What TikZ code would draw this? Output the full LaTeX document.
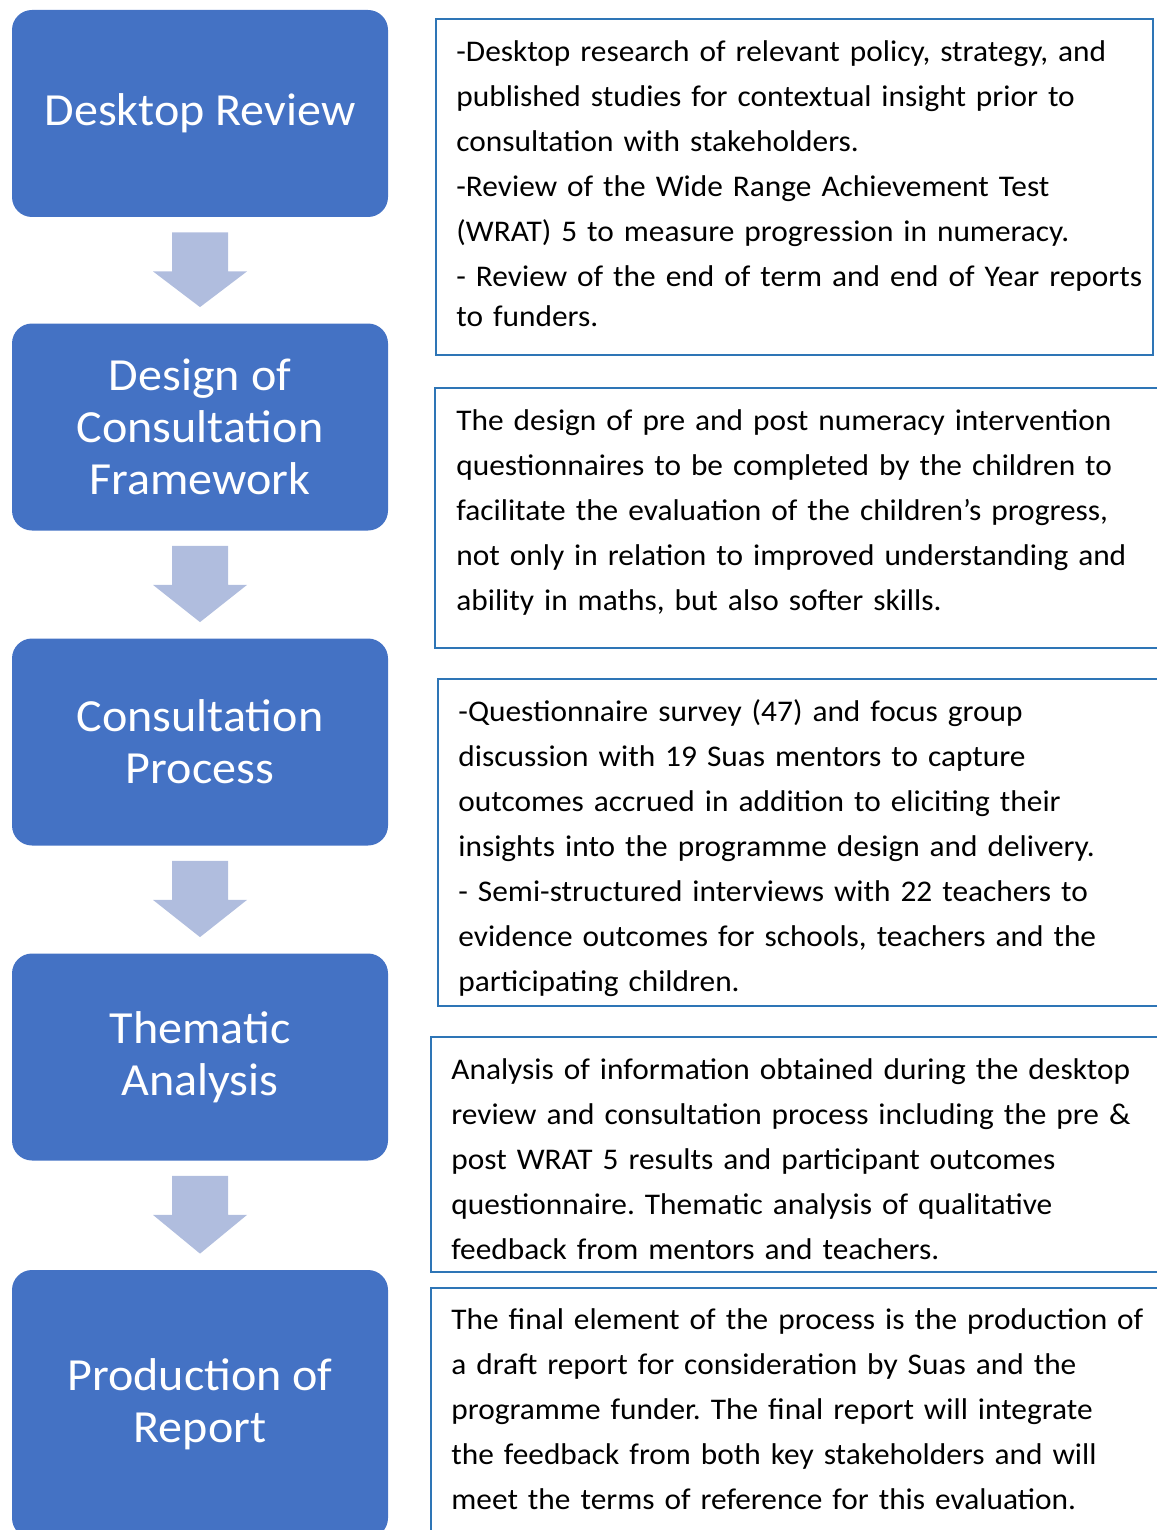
\documentclass[tikz,border=0pt]{standalone}
\usepackage{fontspec}
\setmainfont{Carlito}[FakeStretch=1.045]
\usetikzlibrary{calc}

\definecolor{stageblue}{RGB}{68,114,196}
\definecolor{flowblue}{RGB}{176,189,222}
\definecolor{frameblue}{RGB}{46,117,182}

\begin{document}
\frenchspacing
\begin{tikzpicture}[x=0.5pt,y=-0.5pt,
    stage/.style={fill=stageblue, rounded corners=10pt, minimum width=188pt,
      minimum height=103.5pt, inner sep=0pt, text=white, align=center,
      font=\fontsize{23}{26}\selectfont},
    notebox/.style={draw=frameblue, line width=1pt, inner sep=0pt},
    notetext/.style={anchor=base west, inner sep=0pt, text width=370pt,
      align=left, font=\fontsize{15}{22.5}\selectfont},
    flow/.style={fill=flowblue}]
  \useasboundingbox (0,0) rectangle (1156,1530);

  % stages on the left
  \node[stage] (desk) at (200,113.5) {Desktop Review};
  \node[stage] (design) at (200,427) {Design of\\Consultation\\Framework};
  \node[stage] (consult) at (200,742) {Consultation\\Process};
  \node[stage] (theme) at (200,1057) {Thematic\\Analysis};
  \node[stage, minimum height=134pt] (report) at (200,1404) {Production of\\Report};

  % block arrows between stages
  \foreach \a/\b in {desk/design, design/consult, consult/theme, theme/report}
    \fill[flow] ($(\a.south)+(-28,15)$) -- ++(56,0) -- ++(0,39) -- ++(19,0)
      -- ($(\b.north)+(0,-16)$) -- ($(\a.south)+(-47,54)$) -- ++(19,0) -- cycle;

  % descriptions on the right
  \node[notebox, minimum width=358.5pt, minimum height=168pt] (deskBox) at (794.5,187) {};
  \node[notebox, minimum width=362.5pt, minimum height=130pt] (designBox) at (797.5,518) {};
  \node[notebox, minimum width=361pt, minimum height=163.5pt] (consultBox) at (799,842.5) {};
  \node[notebox, minimum width=364.5pt, minimum height=117.5pt] (themeBox) at (795.5,1154.5) {};
  \node[notebox, minimum width=364.5pt, minimum height=128.5pt] (reportBox) at (795.5,1416.5) {};

  \node[notetext] (deskTxt) at ($(deskBox.north west)+(21,44)$) {-Desktop research of relevant policy, strategy, and\\
    published studies for contextual insight prior to\\
    consultation with stakeholders.\\
    -Review of the Wide Range Achievement Test\\
    (WRAT) 5 to measure progression in numeracy.\\
    - Review of the end of term and end of Year reports\\[-2.5pt]
    to funders.};
  \node[notetext] (designTxt) at ($(designBox.north west)+(22,43)$) {The design of pre and post numeracy intervention\\
    questionnaires to be completed by the children to\\
    facilitate the evaluation of the children’s progress,\\
    not only in relation to improved understanding and\\
    ability in maths, but also softer skills.};
  \node[notetext] (consultTxt) at ($(consultBox.north west)+(21,43)$) {-Questionnaire survey (47) and focus group\\
    discussion with 19 Suas mentors to capture\\
    outcomes accrued in addition to eliciting their\\
    insights into the programme design and delivery.\\
    - Semi-structured interviews with 22 teachers to\\
    evidence outcomes for schools, teachers and the\\
    participating children.};
  \node[notetext] (themeTxt) at ($(themeBox.north west)+(21,43)$) {Analysis of information obtained during the desktop\\
    review and consultation process including the pre \&\\
    post WRAT 5 results and participant outcomes\\
    questionnaire. Thematic analysis of qualitative\\
    feedback from mentors and teachers.};
  \node[notetext] (reportTxt) at ($(reportBox.north west)+(21,42)$) {The final element of the process is the production of\\
    a draft report for consideration by Suas and the\\
    programme funder. The final report will integrate\\
    the feedback from both key stakeholders and will\\
    meet the terms of reference for this evaluation.};
\end{tikzpicture}
\end{document}
